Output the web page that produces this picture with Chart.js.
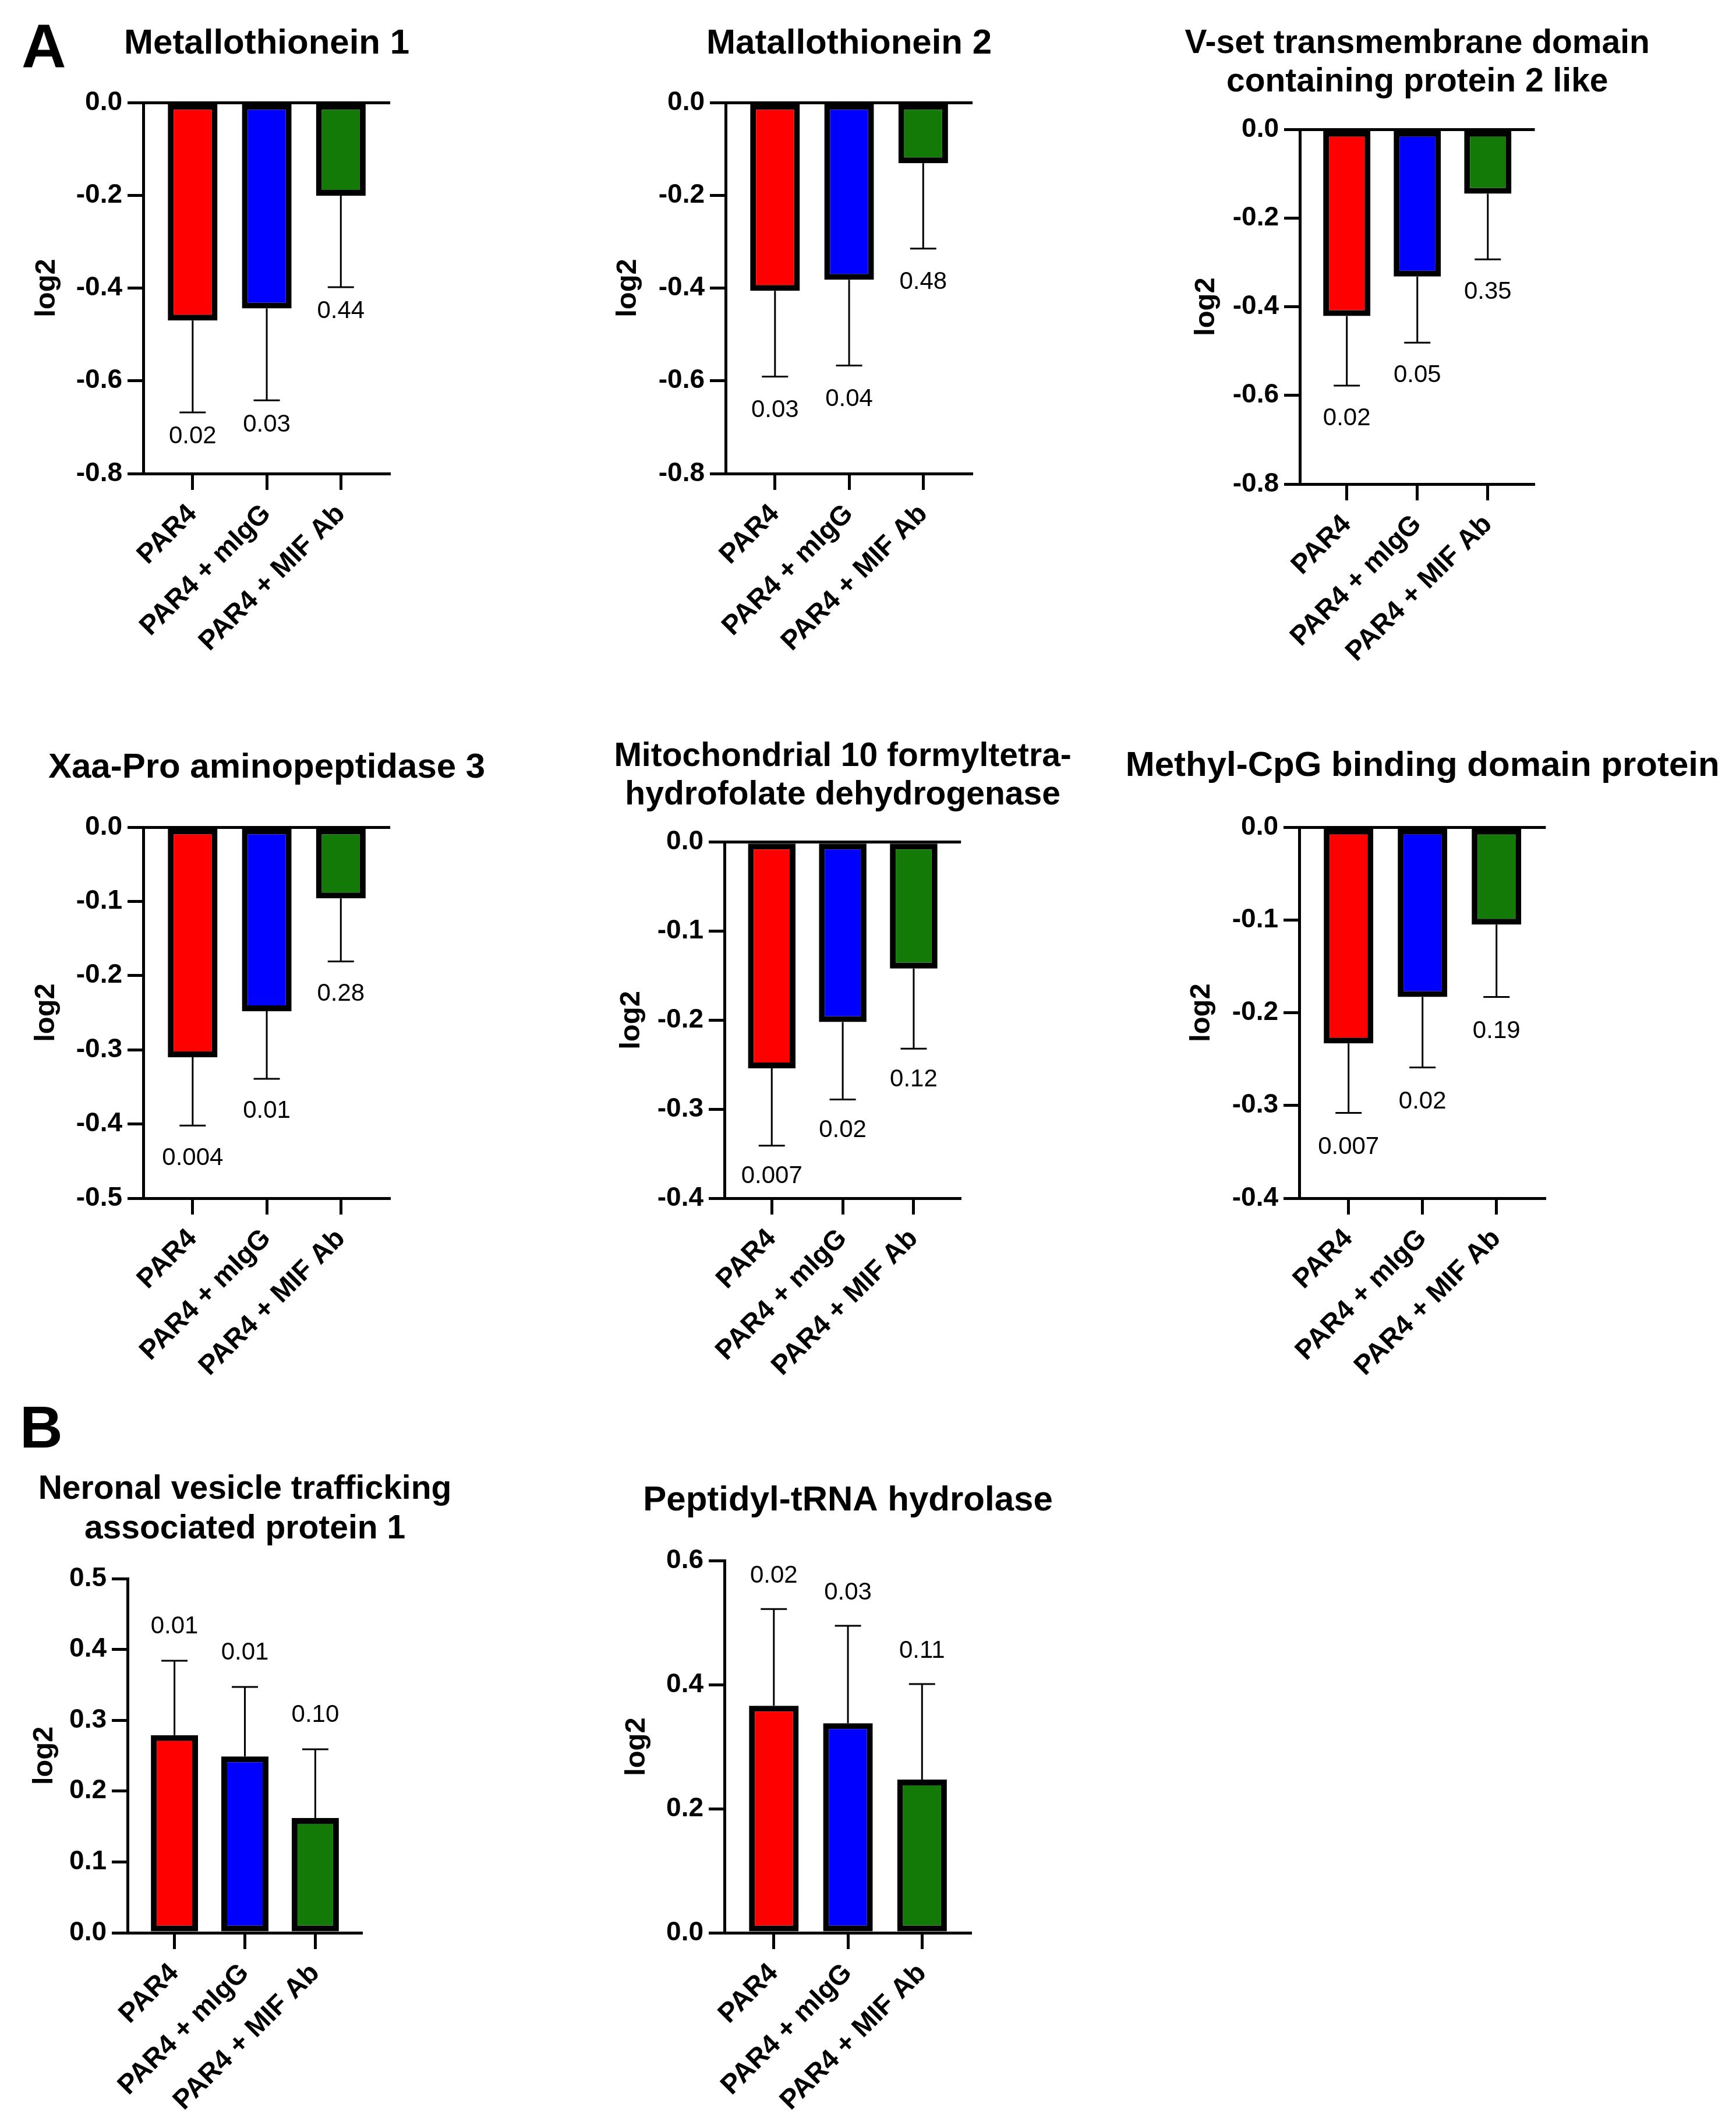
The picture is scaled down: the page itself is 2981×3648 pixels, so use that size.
<!DOCTYPE html>
<html>
<head>
<meta charset="utf-8">
<script src="https://cdn.jsdelivr.net/npm/chart.js@4.4.1/dist/chart.umd.min.js"></script>
<style>
  html, body { margin: 0; padding: 0; background: #fff; }
  body { width: 2981px; height: 3648px; position: relative; overflow: hidden; font-family: 'Liberation Sans', Arial, sans-serif; }
  .panel { position: absolute; }
  .tag { position: absolute; font-weight: bold; line-height: 1; color: #000; }
</style>
</head>
<body>
<div class="tag" style="left:37px; top:26px; font-size:106px;">A</div>
<div class="tag" style="left:34px; top:2399px; font-size:102px;">B</div>
<script>
const FONT = "'Liberation Sans', Arial, sans-serif";

// groups, same in every graph
const categories = ['PAR4', 'PAR4 + mIgG', 'PAR4 + MIF Ab'];
const barColors = ['#ff0000', '#0000ff', '#137a08'];

// y tick values
const ticksNeg08 = [-0.8, -0.6, -0.4, -0.2, 0.0];
const ticksNeg05 = [-0.5, -0.4, -0.3, -0.2, -0.1, 0.0];
const ticksNeg04 = [-0.4, -0.3, -0.2, -0.1, 0.0];
const ticksPos05 = [0.0, 0.1, 0.2, 0.3, 0.4, 0.5];
const ticksPos06 = [0.0, 0.2, 0.4, 0.6];

// A - Metallothionein 1
const mt1Mean = [-0.470, -0.444, -0.201];
const mt1Sd = [0.198, 0.198, 0.197];
const mt1P = ['0.02', '0.03', '0.44'];

// A - Matallothionein 2
const mt2Mean = [-0.406, -0.382, -0.131];
const mt2Sd = [0.185, 0.185, 0.184];
const mt2P = ['0.03', '0.04', '0.48'];

// A - V-set transmembrane domain containing protein 2 like
const vsetMean = [-0.421, -0.332, -0.145];
const vsetSd = [0.157, 0.149, 0.148];
const vsetP = ['0.02', '0.05', '0.35'];

// A - Xaa-Pro aminopeptidase 3
const xpMean = [-0.310, -0.248, -0.096];
const xpSd = [0.092, 0.091, 0.085];
const xpP = ['0.004', '0.01', '0.28'];

// A - Mitochondrial 10 formyltetrahydrofolate dehydrogenase
const mitoMean = [-0.254, -0.202, -0.142];
const mitoSd = [0.087, 0.087, 0.090];
const mitoP = ['0.007', '0.02', '0.12'];

// A - Methyl-CpG binding domain protein
const mbdMean = [-0.233, -0.183, -0.105];
const mbdSd = [0.075, 0.076, 0.078];
const mbdP = ['0.007', '0.02', '0.19'];

// B - Neronal vesicle trafficking associated protein 1
const nvtMean = [0.279, 0.249, 0.162];
const nvtSd = [0.105, 0.098, 0.097];
const nvtP = ['0.01', '0.01', '0.10'];

// B - Peptidyl-tRNA hydrolase
const ptrhMean = [0.366, 0.338, 0.247];
const ptrhSd = [0.156, 0.157, 0.154];
const ptrhP = ['0.02', '0.03', '0.11'];

// where each graph sits: plot box [left, top, right, bottom], title centre y and line gap,
// distance of the "log2" label from the axis, distance of the p value from the cap
const panels = [
  { title: ['Metallothionein 1'], size: 60, mean: mt1Mean, sd: mt1Sd, p: mt1P, ticks: ticksNeg08,
    box: [245.5, 176, 669.6, 812.6], titleY: 75, lineGap: 0, logGap: 161, pGap: 42 },
  { title: ['Matallothionein 2'], size: 60, mean: mt2Mean, sd: mt2Sd, p: mt2P, ticks: ticksNeg08,
    box: [1245.5, 176, 1669.6, 812.6], titleY: 75, lineGap: 0, logGap: 163, pGap: 58 },
  { title: ['V-set transmembrane domain', 'containing protein 2 like'], size: 57, mean: vsetMean, sd: vsetSd, p: vsetP, ticks: ticksNeg08,
    box: [2231.5, 222.2, 2635, 831], titleY: 75, lineGap: 66, logGap: 156, pGap: 56 },
  { title: ['Xaa-Pro aminopeptidase 3'], size: 60, mean: xpMean, sd: xpSd, p: xpP, ticks: ticksNeg05,
    box: [245.5, 1420, 669.6, 2056.7], titleY: 1318, lineGap: 0, logGap: 162, pGap: 56 },
  { title: ['Mitochondrial 10 formyltetra-', 'hydrofolate dehydrogenase'], size: 57, mean: mitoMean, sd: mitoSd, p: mitoP, ticks: ticksNeg04,
    box: [1244.3, 1445.8, 1650.5, 2056.7], titleY: 1299, lineGap: 66, logGap: 155, pGap: 53 },
  { title: ['Methyl-CpG binding domain protein'], size: 60, mean: mbdMean, sd: mbdSd, p: mbdP, ticks: ticksNeg04,
    box: [2231.4, 1420.2, 2654.8, 2056.7], titleY: 1315, lineGap: 0, logGap: 163, pGap: 59 },
  { title: ['Neronal vesicle trafficking', 'associated protein 1'], size: 57, mean: nvtMean, sd: nvtSd, p: nvtP, ticks: ticksPos05,
    box: [218.8, 2710, 621.8, 3318], titleY: 2557, lineGap: 68.5, logGap: 138, pGap: 59 },
  { title: ['Peptidyl-tRNA hydrolase'], size: 60, mean: ptrhMean, sd: ptrhSd, p: ptrhP, ticks: ticksPos06,
    box: [1244.3, 2679.2, 1668.4, 3318], titleY: 2576, lineGap: 0, logGap: 146, pGap: 57 }
];

const AXIS_W = 320;  // room left of the plot, mirrored on the right
const AXIS_H = 360;
const HEAD = 60;     // canvas starts this far above the first title line

// error bars (one direction, away from zero) + p values
const errorBars = (pn) => ({
  id: 'errorBars',
  afterDatasetsDraw(chart) {
    const ctx = chart.ctx;
    const xs = chart.scales.x;
    const ys = chart.scales.y;
    ctx.save();
    ctx.strokeStyle = '#000';
    ctx.fillStyle = '#000';
    ctx.lineWidth = 3;
    ctx.font = '42px ' + FONT;
    ctx.textAlign = 'center';
    ctx.textBaseline = 'middle';
    pn.mean.forEach((m, i) => {
      const dir = m < 0 ? -1 : 1;
      const px = xs.getPixelForValue(i);
      const y0 = ys.getPixelForValue(m);
      const y1 = ys.getPixelForValue(m + dir * pn.sd[i]);
      ctx.beginPath();
      ctx.moveTo(px, y0);
      ctx.lineTo(px, y1);
      ctx.moveTo(px - 22.5, y1);
      ctx.lineTo(px + 22.5, y1);
      ctx.stroke();
      ctx.fillText(pn.p[i], px, y1 - dir * pn.pGap);
    });
    ctx.restore();
  }
});

// graph title, centred over the plot box
const panelTitle = (pn) => ({
  id: 'panelTitle',
  afterDraw(chart) {
    const ctx = chart.ctx;
    const area = chart.chartArea;
    ctx.save();
    ctx.fillStyle = '#000';
    ctx.font = 'bold ' + pn.size + 'px ' + FONT;
    ctx.textAlign = 'center';
    ctx.textBaseline = 'middle';
    const cx = (area.left + area.right) / 2;
    pn.title.forEach((line, i) => ctx.fillText(line, cx, HEAD + i * pn.lineGap));
    ctx.restore();
  }
});

panels.forEach((pn) => {
  const [L, T, R, B] = pn.box;
  const top = pn.titleY - HEAD;
  const left = L - AXIS_W;
  const w = Math.round(R - L + 2 * AXIS_W);
  const h = Math.round(B + AXIS_H - top);

  const wrap = document.createElement('div');
  wrap.className = 'panel';
  wrap.style.left = left + 'px';
  wrap.style.top = top + 'px';
  const cv = document.createElement('canvas');
  cv.width = w;
  cv.height = h;
  cv.style.width = w + 'px';
  cv.style.height = h + 'px';
  wrap.appendChild(cv);
  document.body.appendChild(wrap);

  new Chart(cv, {
    type: 'bar',
    data: {
      datasets: [{
        data: pn.mean.map((v, i) => ({ x: i, y: v })),
        backgroundColor: barColors,
        borderColor: '#000',
        borderWidth: 10,
        borderSkipped: false,
        barPercentage: 0.67,
        categoryPercentage: 1
      }]
    },
    options: {
      responsive: false,
      animation: false,
      devicePixelRatio: 1,
      layout: { padding: { left: 0, top: T - top, right: w - (R - L) - AXIS_W, bottom: 0 } },
      plugins: {
        legend: { display: false },
        tooltip: { enabled: false },
        title: { display: false }
      },
      scales: {
        x: {
          type: 'linear',
          min: -2 / 3,
          max: 8 / 3,
          offset: false,
          afterBuildTicks: (s) => { s.ticks = categories.map((c, i) => ({ value: i })); },
          afterFit: (s) => { s.height = AXIS_H; },
          ticks: {
            autoSkip: false,
            minRotation: 45,
            maxRotation: 45,
            padding: 14,
            labelOffset: 0,
            color: '#000',
            font: { family: FONT, size: 47, weight: 'bold' },
            callback: (v) => categories[v]
          },
          grid: { drawOnChartArea: false, offset: false, tickLength: 28, tickWidth: 5, tickColor: '#000' },
          border: { display: true, color: '#000', width: 5 }
        },
        y: {
          min: pn.ticks[0],
          max: pn.ticks[pn.ticks.length - 1],
          afterBuildTicks: (s) => { s.ticks = pn.ticks.map((v) => ({ value: v })); },
          afterFit: (s) => { s.width = AXIS_W; },
          ticks: {
            padding: 9,
            color: '#000',
            font: { family: FONT, size: 46, weight: 'bold' },
            callback: (v) => v.toFixed(1)
          },
          grid: {
            color: (c) => (c.tick && c.tick.value === 0 ? '#000' : 'rgba(0,0,0,0)'),
            lineWidth: 5,
            tickLength: 27,
            tickWidth: 5,
            tickColor: '#000'
          },
          border: { display: true, color: '#000', width: 5 },
          title: {
            display: true,
            text: 'log2',
            color: '#000',
            font: { family: FONT, size: 49, weight: 'bold', lineHeight: 1.2 },
            padding: { top: AXIS_W - pn.logGap - 4.5 - 29.4, bottom: 0 }
          }
        }
      }
    },
    plugins: [errorBars(pn), panelTitle(pn)]
  });
});
</script>
</body>
</html>
